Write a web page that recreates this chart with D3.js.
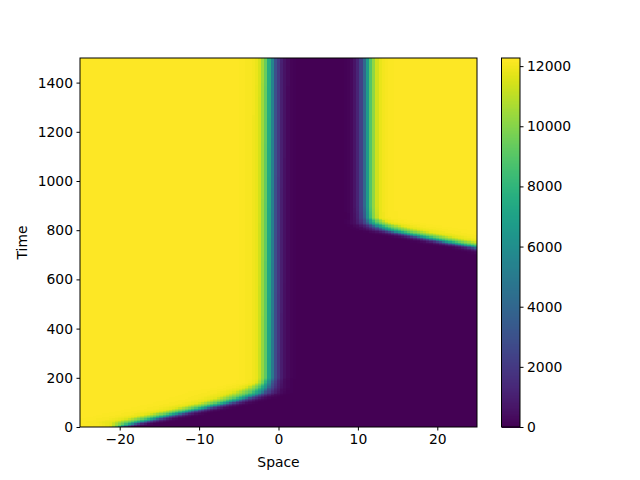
<!DOCTYPE html>
<html>
<head>
<meta charset="utf-8">
<script src="https://cdn.jsdelivr.net/npm/d3@7"></script>
<style>
  html, body { margin: 0; padding: 0; background: #fff; }
  svg { display: block; font-family: "DejaVu Sans", sans-serif; }
</style>
</head>
<body>
<svg id="chart" width="640" height="480"></svg>
<script>
// ---------------- data ----------------
const xDomain = [-25, 25];          // Space
const tDomain = [0, 1500];          // Time
const vMax = 12270;                 // colour scale top
const nSpace = 125;                 // grid columns
const nTime = 300;                  // grid rows

// left (yellow) front: position of the mid level versus time, and its widths
const leftFrontT = [0, 28, 72, 103, 123, 138, 165, 200, 1500];
const leftFrontX = [-20.2, -16.3, -10, -5.8, -3.7, -2.4, -1.5, -1.0, -0.9];
const leftWidthT = [0, 20, 140, 180, 1500];
const leftBright = [0.7, 2.3, 2.3, 1.0, 1.0];   // width on the yellow side
const leftDark   = [0.7, 1.3, 1.3, 1.0, 1.0];   // width on the dark side

// right (yellow) front: position of the mid level versus time, and its widths
const rightFrontT = [0, 700, 730, 744, 771, 799, 827, 850, 900, 1500];
const rightFrontX = [60, 29, 25, 22.4, 18.2, 13.9, 11.7, 11.2, 11.1, 11.1];
const rightWidthT = [0, 800, 850, 1500];
const rightBright = [2.6, 2.6, 0.9, 0.9];
const rightDark   = [1.4, 1.4, 0.9, 0.9];

// front profile: fraction of max versus distance into the dark side
const profileD = [-5, -2.6, -1.6, -1.3, -0.6, 0, 0.5, 1.2, 1.9, 2.6, 3.5];
const profileV = [1, 0.99, 0.96, 0.9, 0.75, 0.5, 0.25, 0.1, 0.03, 0.008, 0];

const xTicks = [-20, -10, 0, 10, 20];
const tTicks = [0, 200, 400, 600, 800, 1000, 1200, 1400];
const cTicks = [0, 2000, 4000, 6000, 8000, 10000, 12000];

// ---------------- layout ----------------
const plot = {left: 80, right: 477, top: 58, bottom: 427};
const cbar = {left: 501.5, right: 520, top: 58, bottom: 427};
const fontSize = 13.9;

const svg = d3.select("#chart");
const x = d3.scaleLinear().domain(xDomain).range([plot.left, plot.right]);
const y = d3.scaleLinear().domain(tDomain).range([plot.bottom, plot.top]);
const cy = d3.scaleLinear().domain([0, vMax]).range([cbar.bottom, cbar.top]);
const color = d3.scaleSequential(d3.interpolateViridis).domain([0, vMax]);

const leftFront = d3.scaleLinear().domain(leftFrontT).range(leftFrontX).clamp(true);
const rightFront = d3.scaleLinear().domain(rightFrontT).range(rightFrontX).clamp(true);
const leftWB = d3.scaleLinear().domain(leftWidthT).range(leftBright).clamp(true);
const leftWD = d3.scaleLinear().domain(leftWidthT).range(leftDark).clamp(true);
const rightWB = d3.scaleLinear().domain(rightWidthT).range(rightBright).clamp(true);
const rightWD = d3.scaleLinear().domain(rightWidthT).range(rightDark).clamp(true);
const profile = d3.scaleLinear().domain(profileD).range(profileV).clamp(true);
const frontValue = (d, wb, wd) => profile(d < 0 ? d / wb : d / wd);

// field values on the grid
const dx = (xDomain[1] - xDomain[0]) / nSpace;
const dt = (tDomain[1] - tDomain[0]) / nTime;
const cells = [];
for (let j = 0; j < nTime; j++) {
  const t0 = tDomain[0] + j * dt, tc = t0 + dt / 2;
  const L = leftFront(tc), R = rightFront(tc);
  const lb = leftWB(tc), ld = leftWD(tc), rb = rightWB(tc), rd = rightWD(tc);
  let run = null;
  for (let i = 0; i < nSpace; i++) {
    const x0 = xDomain[0] + i * dx, xc = x0 + dx / 2;
    const v = vMax * Math.max(frontValue(xc - L, lb, ld), frontValue(R - xc, rb, rd));
    const c = color(v);
    if (run && run.c === c) { run.x1 = x0 + dx; }
    else {
      run = {x0: x0, x1: x0 + dx, t0: t0, t1: t0 + dt, v: v, c: c};
      cells.push(run);
    }
  }
}

svg.append("g").attr("class", "heatmap")
  .selectAll("rect").data(cells).join("rect")
  .attr("x", d => x(d.x0))
  .attr("width", d => x(d.x1) - x(d.x0))
  .attr("y", d => y(d.t1))
  .attr("height", d => y(d.t0) - y(d.t1))
  .attr("fill", d => color(d.v))
  .attr("shape-rendering", "crispEdges");

// frame
svg.append("rect")
  .attr("x", plot.left).attr("y", plot.top)
  .attr("width", plot.right - plot.left).attr("height", plot.bottom - plot.top)
  .attr("fill", "none").attr("stroke", "#000").attr("stroke-width", 1);

const fmt = d => (d < 0 ? "\u2212" + Math.abs(d) : String(d));

const xAxis = svg.append("g").attr("transform", `translate(0,${plot.bottom})`)
  .call(d3.axisBottom(x).tickValues(xTicks).tickFormat(fmt).tickSizeInner(3.5).tickSizeOuter(0).tickPadding(3.5));
const yAxis = svg.append("g").attr("transform", `translate(${plot.left},0)`)
  .call(d3.axisLeft(y).tickValues(tTicks).tickFormat(fmt).tickSizeInner(3.5).tickSizeOuter(0).tickPadding(3.5));
[xAxis, yAxis].forEach(g => {
  g.select(".domain").remove();
  g.selectAll("text").attr("font-size", fontSize).attr("font-family", "DejaVu Sans").attr("fill", "#000");
  g.selectAll("line").attr("stroke", "#000").attr("stroke-width", 1);
});

svg.append("text").attr("x", (plot.left + plot.right) / 2).attr("y", 466.5)
  .attr("text-anchor", "middle").attr("font-size", fontSize).attr("fill", "#000").text("Space");
svg.append("text").attr("transform", `translate(26.5,${(plot.top + plot.bottom) / 2}) rotate(-90)`)
  .attr("text-anchor", "middle").attr("font-size", fontSize).attr("fill", "#000").text("Time");

// colorbar
const nBar = 256;
const barData = d3.range(nBar).map(k => ({v0: k * vMax / nBar, v1: (k + 1) * vMax / nBar}));
svg.append("g").attr("class", "colorbar")
  .selectAll("rect").data(barData).join("rect")
  .attr("x", cbar.left).attr("width", cbar.right - cbar.left)
  .attr("y", d => cy(d.v1)).attr("height", d => cy(d.v0) - cy(d.v1) + 1)
  .attr("fill", d => color((d.v0 + d.v1) / 2))
  .attr("shape-rendering", "crispEdges");
svg.append("rect")
  .attr("x", cbar.left).attr("y", cbar.top)
  .attr("width", cbar.right - cbar.left).attr("height", cbar.bottom - cbar.top)
  .attr("fill", "none").attr("stroke", "#000").attr("stroke-width", 1);
const cAxis = svg.append("g").attr("transform", `translate(${cbar.right},0)`)
  .call(d3.axisRight(cy).tickValues(cTicks).tickFormat(d => String(d)).tickSizeInner(3.5).tickSizeOuter(0).tickPadding(3.5));
cAxis.select(".domain").remove();
cAxis.selectAll("text").attr("font-size", fontSize).attr("font-family", "DejaVu Sans").attr("fill", "#000");
cAxis.selectAll("line").attr("stroke", "#000").attr("stroke-width", 1);
</script>
</body>
</html>
